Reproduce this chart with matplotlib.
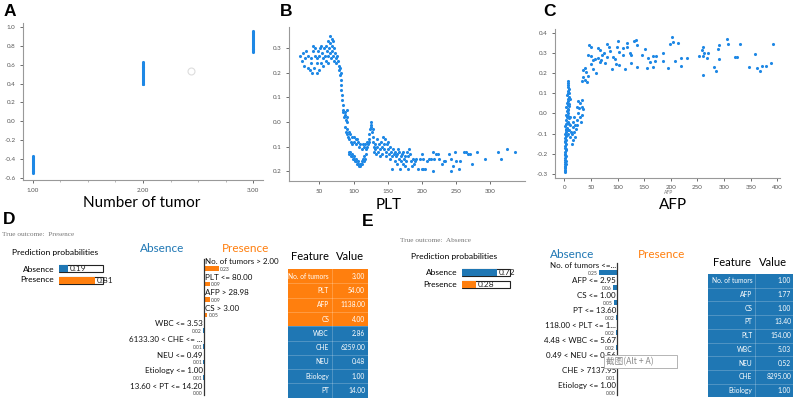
import numpy as np
import matplotlib
matplotlib.use("Agg")
import matplotlib.pyplot as plt
from matplotlib.patches import Rectangle

plt.rcParams['font.family'] = ['Lato', 'DejaVu Sans']

W, H = 800, 401
SHAP_BLUE = '#1E88E5'
ORANGE = '#ff7f0e'
BLUE = '#1f77b4'

# ---------------- data ----------------
# A: number of tumors vs SHAP
tumor_1 = [-0.55, -0.54, -0.53, -0.52, -0.51, -0.50, -0.49, -0.48, -0.47, -0.46,
           -0.45, -0.44, -0.43, -0.42, -0.41, -0.40, -0.39, -0.38, -0.37]
tumor_2 = [0.39, 0.40, 0.41, 0.42, 0.43, 0.44, 0.45, 0.46, 0.47, 0.48, 0.49, 0.50,
           0.51, 0.52, 0.53, 0.54, 0.55, 0.56, 0.57, 0.58, 0.59, 0.60, 0.61, 0.62, 0.63]
tumor_3 = [0.73, 0.74, 0.75, 0.76, 0.77, 0.78, 0.79, 0.80, 0.81, 0.82, 0.83, 0.84,
           0.85, 0.86, 0.87, 0.88, 0.89, 0.90, 0.91, 0.92, 0.93, 0.94, 0.95, 0.96]

# B: PLT vs SHAP
plt_points = [
    (22, 0.27), (25, 0.25), (26, 0.28), (28, 0.23), (29, 0.26), (31, 0.29), (33, 0.22), (34, 0.27),
    (36, 0.21), (37, 0.24), (38, 0.26), (39, 0.20), (40, 0.29), (41, 0.31), (42, 0.22), (43, 0.27),
    (44, 0.30), (46, 0.20), (46, 0.24), (47, 0.26), (48, 0.29), (49, 0.21), (50, 0.27), (51, 0.30),
    (52, 0.24), (53, 0.31), (54, 0.28), (55, 0.23), (56, 0.26), (57, 0.30), (58, 0.27), (59, 0.25),
    (60, 0.31), (61, 0.29), (62, 0.33), (62, 0.27), (63, 0.24), (64, 0.30), (65, 0.32), (66, 0.35),
    (66, 0.28), (67, 0.26), (68, 0.34), (68, 0.31), (69, 0.29), (70, 0.33), (70, 0.27), (71, 0.25),
    (72, 0.30), (73, 0.28), (74, 0.26), (75, 0.24), (76, 0.27), (77, 0.25), (78, 0.23), (79, 0.21),
    (80, 0.22), (80, 0.19), (81, 0.20), (81, 0.17),
    (82, 0.15), (82, 0.13), (83, 0.11), (83, 0.09), (84, 0.07), (84, 0.05), (85, 0.04), (86, 0.02),
    (87, 0.04), (88, 0.03), (89, 0.01), (90, 0.05), (90, 0.02), (91, 0.00), (88, -0.02), (89, -0.04),
    (90, -0.05), (91, -0.03), (92, -0.06), (93, -0.04), (94, -0.07), (95, -0.05), (96, -0.08),
    (97, -0.06), (98, -0.09), (100, -0.06), (101, -0.08), (103, -0.07), (104, -0.09), (105, -0.07),
    (107, -0.08), (108, -0.10), (110, -0.09), (112, -0.11), (114, -0.09),
    (93, -0.12), (94, -0.13), (95, -0.12), (96, -0.14), (97, -0.13), (98, -0.14), (99, -0.15),
    (100, -0.14), (101, -0.15), (102, -0.16), (103, -0.15), (104, -0.16), (105, -0.17), (106, -0.16),
    (107, -0.17), (108, -0.18), (109, -0.17), (110, -0.18), (111, -0.17), (112, -0.16), (113, -0.17),
    (114, -0.15), (115, -0.16), (116, -0.14), (117, -0.15), (118, -0.13),
    (115, -0.10), (117, -0.09), (118, -0.11), (119, -0.08), (120, -0.10), (121, -0.09), (122, -0.07),
    (123, -0.05), (123, -0.08), (124, -0.03), (125, -0.01), (125, 0.00), (126, -0.02), (127, -0.04),
    (128, -0.03), (128, -0.06), (129, -0.08), (130, -0.10), (130, -0.12), (131, -0.09), (132, -0.11),
    (133, -0.13), (134, -0.10), (135, -0.07), (136, -0.12), (137, -0.09), (138, -0.11), (139, -0.14),
    (140, -0.08), (141, -0.10), (142, -0.13), (143, -0.06), (144, -0.09), (145, -0.11), (146, -0.07),
    (147, -0.12), (148, -0.14), (149, -0.09), (150, -0.11), (151, -0.08), (152, -0.13), (153, -0.10),
    (154, -0.15), (155, -0.12), (156, -0.19), (157, -0.14), (158, -0.11), (159, -0.13), (160, -0.16),
    (161, -0.12), (162, -0.14), (163, -0.17), (164, -0.13), (165, -0.11), (166, -0.15), (167, -0.12),
    (168, -0.19), (169, -0.14), (170, -0.16), (171, -0.13), (172, -0.17), (173, -0.12), (174, -0.15),
    (175, -0.18), (176, -0.14), (177, -0.16), (178, -0.12), (179, -0.19), (180, -0.14), (181, -0.11),
    (183, -0.13), (184, -0.16), (185, -0.18), (187, -0.15), (188, -0.17), (190, -0.16), (192, -0.15),
    (195, -0.19), (197, -0.15), (200, -0.13), (200, -0.19), (201, -0.15), (202, -0.19), (205, -0.19),
    (207, -0.16), (210, -0.15), (214, -0.15), (216, -0.20), (217, -0.12), (218, -0.15), (220, -0.13),
    (223, -0.13), (225, -0.15), (230, -0.17), (232, -0.16), (234, -0.16), (240, -0.13), (242, -0.20),
    (243, -0.15), (246, -0.18), (248, -0.12), (250, -0.16), (254, -0.19), (256, -0.16), (261, -0.12),
    (264, -0.12), (267, -0.13), (271, -0.13), (273, -0.17), (281, -0.12), (293, -0.15), (312, -0.12),
    (316, -0.15), (325, -0.11), (337, -0.12),
]

# C: AFP vs SHAP
afp_points = [
    (1, -0.29), (2, -0.28), (1, -0.27), (2, -0.26), (1, -0.25), (3, -0.25), (2, -0.24), (1, -0.23),
    (2, -0.22), (3, -0.21), (1, -0.20), (2, -0.19), (3, -0.18), (1, -0.17), (2, -0.16), (3, -0.15),
    (2, -0.14), (4, -0.13), (1, -0.12), (3, -0.11), (2, -0.10), (4, -0.09), (3, -0.08), (5, -0.07),
    (2, -0.06), (4, -0.05), (6, -0.04), (3, -0.03), (5, -0.02), (4, -0.01), (6, 0.00), (5, 0.01),
    (7, 0.02), (4, 0.03), (6, 0.04), (5, 0.05), (7, 0.06), (6, 0.07), (8, 0.08), (5, 0.09), (7, 0.10),
    (6, 0.11), (8, 0.12), (6, 0.13), (7, 0.14), (6, 0.15), (7, 0.16),
    (2, -0.285), (2, -0.265), (3, -0.235), (2, -0.205), (3, -0.175), (2, -0.135), (3, -0.105),
    (4, -0.075), (5, -0.045), (6, -0.015), (7, 0.015), (8, 0.045), (9, 0.035), (10, -0.02),
    (8, -0.05), (9, -0.08), (7, -0.10), (10, 0.07), (9, 0.10),
    (26, 0.06), (29, 0.05), (33, 0.067), (23, 0.034), (28, 0.026), (33, 0.034), (36, 0.02), (26, 0.0),
    (29, -0.016), (34, -0.007), (31, -0.04), (23, -0.032), (20, -0.057), (16, -0.066), (18, -0.09),
    (14, -0.10), (11, -0.116), (16, -0.132), (14, -0.15), (20, -0.116), (22, -0.079), (17, -0.04),
    (9, -0.024), (11, -0.057), (7.5, -0.082), (12, -0.09), (4.4, -0.107), (19, -0.016), (24, -0.057),
    (36, 0.217), (39, 0.225), (41, 0.209), (36, 0.184), (33, 0.164), (39, 0.167), (42, 0.159),
    (45, 0.187),
    (47, 0.34), (51, 0.333), (45, 0.29), (50, 0.287), (54, 0.267), (51, 0.247), (53, 0.22),
    (59, 0.204), (64, 0.325), (67, 0.314), (64, 0.275), (67, 0.259), (68, 0.267), (70, 0.292),
    (79.5, 0.345), (84.5, 0.333), (81, 0.28), (86, 0.309), (89, 0.222), (95, 0.27), (97, 0.245),
    (101, 0.363), (99.5, 0.33), (103, 0.304), (103, 0.242), (109.5, 0.325), (111, 0.292), (114, 0.22),
    (117, 0.353), (118, 0.333), (123, 0.30), (125, 0.292), (126, 0.25), (131, 0.363), (135, 0.367),
    (136, 0.342), (137, 0.234), (145, 0.292), (151.5, 0.322), (156, 0.225), (158, 0.275),
    (161, 0.259), (167, 0.234), (166, 0.287), (170, 0.262), (172, 0.287), (185, 0.262), (186, 0.30),
    (194, 0.225), (198, 0.345), (201.5, 0.38), (205, 0.358), (208, 0.262), (214, 0.35),
    (218.5, 0.239), (220, 0.274), (230, 0.275), (253.5, 0.287), (258, 0.314), (261, 0.333),
    (260, 0.287), (261, 0.192), (262, 0.30), (267, 0.275), (270, 0.30), (281, 0.234), (284.5, 0.212),
    (289, 0.32), (291, 0.342), (291, 0.27), (306, 0.37), (308, 0.345), (321, 0.28), (325, 0.283),
    (329, 0.345), (347, 0.234), (358, 0.295), (362, 0.229), (367, 0.212), (371, 0.239), (379, 0.237),
    (389, 0.25), (392.5, 0.348), (58, 0.27), (74, 0.30), (91, 0.28), (77, 0.25),
]

# D: LIME explanation, true outcome Presence
d_probs = [0.19, 0.81]
d_labels = ["No. of tumors > 2.00", "PLT <= 80.00", "AFP > 28.98", "CS > 3.00", "WBC <= 3.53",
            "6133.30 < CHE <= ...", "NEU <= 0.49", "Etiology <= 1.00", "13.60 < PT <= 14.20"]
d_weights = [0.23, 0.09, 0.09, 0.05, -0.02, -0.01, -0.01, -0.01, -0.004]
d_features = ["No. of tumors", "PLT", "AFP", "CS", "WBC", "CHE", "NEU", "Etiology", "PT"]
d_values = [3.00, 54.00, 1138.00, 4.00, 2.86, 6259.00, 0.48, 1.00, 14.00]

# E: LIME explanation, true outcome Absence
e_probs = [0.72, 0.28]
e_labels = ["No. of tumors <=...", "AFP <= 2.95", "CS <= 1.00", "PT <= 13.60", "118.00 < PLT <= 1...",
            "4.48 < WBC <= 5.67", "0.49 < NEU <= 0.56", "CHE > 7137.95", "Etiology <= 1.00"]
e_weights = [-0.25, -0.06, -0.05, -0.02, -0.02, -0.02, -0.02, -0.01, -0.004]
e_features = ["No. of tumors", "AFP", "CS", "PT", "PLT", "WBC", "NEU", "CHE", "Etiology"]
e_values = [1.00, 1.77, 1.00, 13.40, 154.00, 5.03, 0.52, 8295.00, 1.00]


def px_axes(fig, x0, y0, x1, y1):
    return fig.add_axes([x0 / W, 1 - y1 / H, (x1 - x0) / W, (y1 - y0) / H])


def style_scatter(ax):
    for s in ['top', 'right']:
        ax.spines[s].set_visible(False)
    for s in ['left', 'bottom']:
        ax.spines[s].set_color('#999999')
        ax.spines[s].set_linewidth(0.8)
    ax.tick_params(labelsize=4.5, colors='#555555', length=2, width=0.6)
    ax.tick_params(which='minor', length=1.5, width=0.5, colors='#999999')


fig = plt.figure(figsize=(8, 4.01), dpi=100)

# ---------------- A ----------------
axA = px_axes(fig, 23, 23, 263, 180)
for xv, ys in [(1, tumor_1), (2, tumor_2), (3, tumor_3)]:
    axA.scatter([xv] * len(ys), ys, s=5, color=SHAP_BLUE, linewidths=0)
axA.plot([2.44], [0.534], 'o', mfc='none', mec='#dddddd', ms=5, mew=0.8)
axA.set_xlim(0.91, 3.09)
axA.set_ylim(-0.62, 1.04)
axA.set_xticks([1, 2, 3])
axA.set_xticklabels(["1.00", "2.00", "3.00"])
axA.set_xticks([1.25, 1.5, 1.75, 2.25, 2.5, 2.75], minor=True)
axA.set_yticks(np.arange(-0.6, 1.01, 0.2))
axA.set_yticklabels(["-0.6", "-0.4", "-0.2", "0.0", "0.2", "0.4", "0.6", "0.8", "1.0"])
style_scatter(axA)

# ---------------- B ----------------
axB = px_axes(fig, 289, 27, 525, 181)
bx, by = zip(*plt_points)
axB.scatter(bx, by, s=5, color=SHAP_BLUE, linewidths=0)
axB.set_xlim(5.5, 351)
axB.set_ylim(-0.24, 0.387)
axB.set_xticks([50, 100, 150, 200, 250, 300])
axB.set_yticks([-0.2, -0.1, 0.0, 0.1, 0.2, 0.3])
axB.set_yticklabels(["0.2", "0.1", "0.0", "0.1", "0.2", "0.3"])
style_scatter(axB)

# ---------------- C ----------------
axC = px_axes(fig, 555, 29, 780, 177.7)
cx, cy = zip(*afp_points)
axC.scatter(cx, cy, s=5, color=SHAP_BLUE, linewidths=0)
axC.set_xlim(-17.5, 405)
axC.set_ylim(-0.32, 0.421)
axC.set_xticks(np.arange(0, 401, 50))
axC.set_yticks([-0.3, -0.2, -0.1, 0.0, 0.1, 0.2, 0.3, 0.4])
axC.set_yticklabels(["-0.3", "-0.2", "-0.1", "0.0", "0.1", "0.2", "0.3", "0.4"])
style_scatter(axC)


# ---------------- LIME pieces ----------------
def prob_bars(x0, x1, ytop, ybot, probs):
    ax = px_axes(fig, x0, ytop, x1 + 20, ybot)
    span = (x1 - x0)
    ax.set_xlim(0, (x1 + 20 - x0) / span)
    ax.set_ylim(1.5, -0.5)
    ax.axis('off')
    colors = [BLUE, ORANGE]
    for i, p in enumerate(probs):
        ax.barh(i, 1.0, height=0.62, color='white', edgecolor='#222222', linewidth=0.8)
        ax.barh(i, p, height=0.62, color=colors[i], linewidth=0)
        ax.text(p + 0.04, i, f"{p:.2f}", fontsize=6, va='center', ha='left', color='#222222')
    return ax


def explanation(x0, x1, zero_px, scale, ytop, ybot, first_bar_px, step, labels, weights):
    ax = px_axes(fig, x0, ytop, x1, ybot)
    ax.set_xlim((x0 - zero_px) / scale, (x1 - zero_px) / scale)
    ax.set_ylim((ybot - first_bar_px) / step, (ytop - first_bar_px) / step)
    ax.axis('off')
    rows = np.arange(len(weights))
    cols = [ORANGE if w > 0 else BLUE for w in weights]
    ax.barh(rows, weights, height=0.3, color=cols, linewidth=0)
    ax.plot([0, 0], [-0.62, len(weights) - 0.85], color='#333333', lw=0.9)
    gap = 1.2 / scale
    for r, lab, w in zip(rows, labels, weights):
        if w > 0:
            ax.text(gap, r - 0.43, lab, fontsize=5.8, ha='left', va='center', color='#111111')
            ax.text(w + gap, r + 0.05, f"{abs(w):.2f}", fontsize=3.6, ha='left', va='center', color='#444444')
        else:
            ax.text(-gap, r - 0.43, lab, fontsize=5.8, ha='right', va='center', color='#111111')
            ax.text(w - gap, r + 0.05, f"{abs(w):.2f}", fontsize=3.6, ha='right', va='center', color='#444444')
    return ax


prob_bars(59.3, 103.3, 263, 286, d_probs)
explanation(130, 280, 204, 65, 255, 398, 268.3, 15.6, d_labels, d_weights)
prob_bars(462.3, 510, 267, 290, e_probs)
explanation(520, 660, 617.3, 72, 258, 398, 272.3, 15.0, e_labels, e_weights)

# ---------------- overlay (text, tables) ----------------
ov = fig.add_axes([0, 0, 1, 1])
ov.set_xlim(0, W)
ov.set_ylim(H, 0)
ov.axis('off')
ov.patch.set_alpha(0)

for lab, x, y in [("A", 4, 11), ("B", 280, 11), ("C", 543, 11), ("D", 3, 219), ("E", 362, 221)]:
    ov.text(x, y, lab, fontsize=12.5, fontweight='bold', family='Liberation Sans', ha='left', va='center')

ov.text(142, 203, "Number of tumor", fontsize=11, ha='center', va='center')
ov.text(389, 205, "PLT", fontsize=11, ha='center', va='center')
ov.text(669, 192.5, "AFP", fontsize=3.6, ha='center', va='center', color='#777777')
ov.text(673, 205, "AFP", fontsize=11, ha='center', va='center')

# D text
ov.text(2, 234, "True outcome:  Presence", fontsize=5.2, family='Liberation Serif', color='#777777', va='center')
ov.text(12, 253, "Prediction probabilities", fontsize=6.1, va='center')
ov.text(54, 269, "Absence", fontsize=6, ha='right', va='center')
ov.text(54, 280, "Presence", fontsize=6, ha='right', va='center')
ov.text(162, 249, "Absence", fontsize=8.5, ha='center', va='center', color=BLUE)
ov.text(246, 249, "Presence", fontsize=8.5, ha='center', va='center', color=ORANGE)

# E text
ov.text(400, 240, "True outcome:  Absence", fontsize=5.2, family='Liberation Serif', color='#777777', va='center')
ov.text(410.7, 257, "Prediction probabilities", fontsize=6.1, va='center')
ov.text(457, 272.7, "Absence", fontsize=6, ha='right', va='center')
ov.text(457, 284.3, "Presence", fontsize=6, ha='right', va='center')
ov.text(572, 254, "Absence", fontsize=8.5, ha='center', va='center', color=BLUE)
ov.text(662, 254, "Presence", fontsize=8.5, ha='center', va='center', color=ORANGE)


def table(x0, x1, xsep, ytop, rowh, feats, vals, colors, feat_r, val_r, head_y, head_fx, head_vx):
    ov.text(head_fx, head_y, "Feature", fontsize=8, ha='center', va='center')
    ov.text(head_vx, head_y, "Value", fontsize=8, ha='center', va='center')
    for i, (f, v, c) in enumerate(zip(feats, vals, colors)):
        y = ytop + i * rowh
        ov.add_patch(Rectangle((x0, y), x1 - x0, rowh, facecolor=c, edgecolor='none'))
        if i > 0:
            ov.plot([x0, x1], [y, y], color='white', alpha=0.3, lw=0.5)
        ov.text(feat_r, y + rowh / 2, f, fontsize=4.8, color='white', ha='right', va='center')
        ov.text(val_r, y + rowh / 2, f"{v:.2f}", fontsize=4.8, color='white', ha='right', va='center')
    ov.plot([xsep, xsep], [ytop, ytop + rowh * len(feats)], color='white', alpha=0.3, lw=0.5)


table(287.7, 367.7, 331.7, 269, 14.3, d_features, d_values,
      [ORANGE] * 4 + [BLUE] * 5, 329, 365, 257, 310, 350)
table(708.3, 793.3, 755, 274, 13.7, e_features, e_values,
      [BLUE] * 9, 752.3, 791, 262.3, 731.7, 773.3)

# screenshot tooltip left in the original figure
ov.add_patch(Rectangle((605, 356), 73, 13, facecolor='#cccccc', edgecolor='none', alpha=0.6))
ov.add_patch(Rectangle((604, 355), 73, 13, facecolor='white', edgecolor='#aaaaaa', lw=0.6))
ov.text(606, 361.5, "截图(Alt + A)", fontsize=6.2, color='#888888', va='center',
        family=['Noto Sans CJK SC', 'DejaVu Sans'])

fig.savefig("out.png", dpi=100)
